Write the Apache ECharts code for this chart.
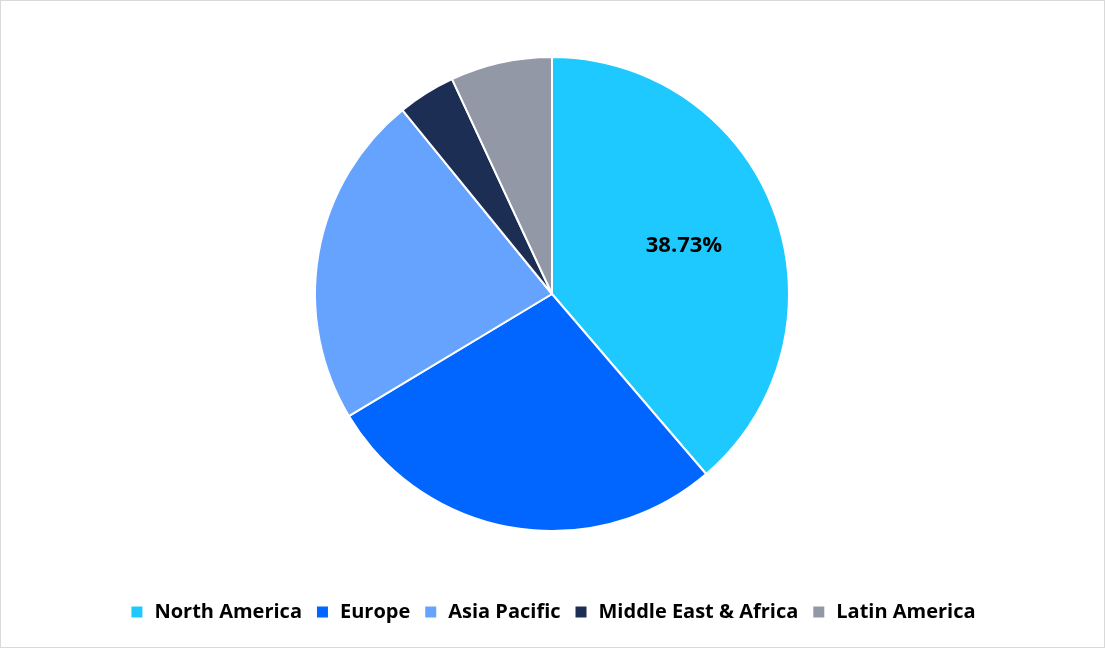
<!DOCTYPE html>
<html><head><meta charset="utf-8">
<script src="https://cdn.jsdelivr.net/npm/echarts@6/dist/echarts.min.js"></script>
<style>
html,body{margin:0;padding:0;background:#fff;}
#c{width:1105px;height:648px;box-sizing:border-box;border:1px solid #d9d9d9;}
</style></head>
<body><div id="c"></div>
<script>
const categories = ['North America','Europe','Asia Pacific','Middle East & Africa','Latin America'];
const shares = [38.73, 27.66, 22.74, 3.94, 6.93];
const colors = ['#1ec9ff','#0066ff','#66a3ff','#1c2e54','#9298a6'];
const labelled = ['North America'];

const chart = echarts.init(document.getElementById('c'));
chart.setOption({
  animation:false,
  color: colors,
  legend:{
    bottom: 20, left:'center',
    itemWidth:13, itemHeight:13, itemGap:13, icon:'rect',
    textStyle:{fontFamily:'Open Sans', fontWeight:'bold', fontSize:20, color:'#000', padding:[0,0,0,6]},
    data: categories
  },
  series:[{
    type:'pie',
    center:[551,293],
    radius:[0,237],
    startAngle:90,
    clockwise:true,
    itemStyle:{borderColor:'#fff', borderWidth:2},
    label:{show:false},
    labelLine:{show:false},
    emphasis:{disabled:true},
    data: categories.map((n,i)=>({
      name:n, value:shares[i],
      label: labelled.includes(n) ? {show:true, position:'inside', offset:[18,-6],
        formatter: p => p.value.toFixed(2)+'%',
        fontFamily:'Open Sans', fontWeight:'bold', fontSize:22, color:'#000'} : {show:false}
    }))
  }]
});
</script></body></html>
